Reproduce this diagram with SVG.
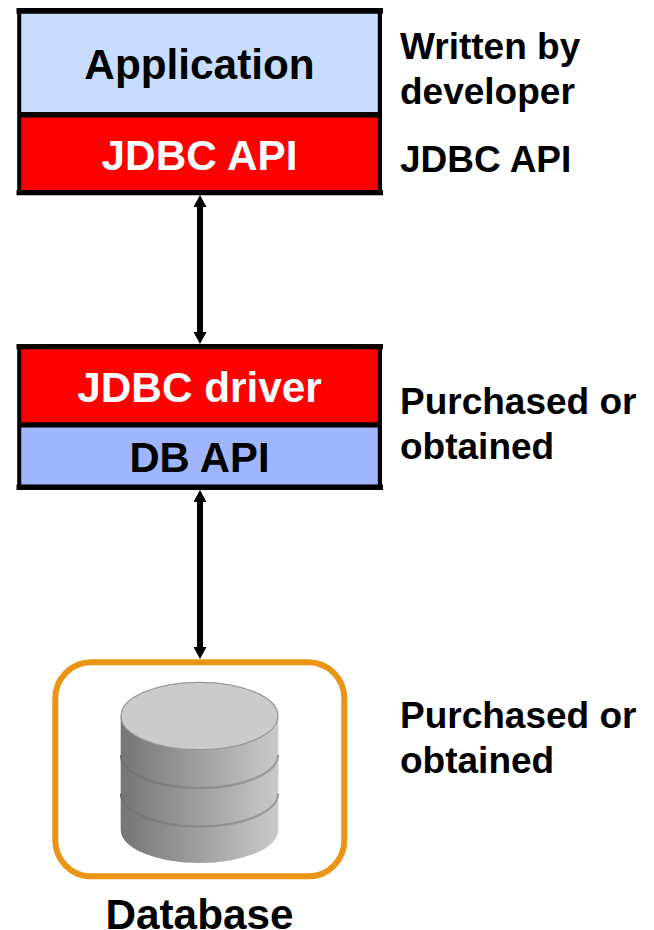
<svg xmlns="http://www.w3.org/2000/svg" width="654" height="930" viewBox="0 0 654 930">
<style>
text{font-family:"Liberation Sans",Arial,sans-serif;font-weight:700;fill:#000}
.c{font-size:42.300px;text-anchor:middle}
.n{font-size:37px}
.b{stroke:none;fill:#000}
.a{stroke:#000;stroke-width:6;fill:none;marker-start:url(#h);marker-end:url(#h)}
.s{fill:none;stroke:url(#sg);stroke-width:2.400}
</style>
<defs>
<marker id="h" markerUnits="userSpaceOnUse" markerWidth="13" markerHeight="13" refX="2" refY="6.500" orient="auto-start-reverse"><path d="M0 0L12 6.500L0 13Z" fill="#000"/></marker>
<linearGradient id="g" x1="0" x2="1" y1="0" y2="0"><stop offset="0" stop-color="#757575"/><stop offset="1" stop-color="#cacaca"/></linearGradient>
<linearGradient id="sg" gradientUnits="userSpaceOnUse" x1="120" x2="279" y1="0" y2="0"><stop offset="0" stop-color="#707070"/><stop offset="0.5" stop-color="#8c8c8c"/><stop offset="1" stop-color="#a0a0a0"/></linearGradient>
</defs>
<rect width="654" height="930" fill="#fff"/>
<g id="app-stack">
<rect x="19" y="11" width="361" height="103" fill="#c8dcff"/>
<rect x="19" y="115" width="361" height="77" fill="#f00"/>
<path class="b" d="M16.500 8H383V13.700H382V190H383V195.300H16.500V190H17.200V13.700H16.500ZM21.200 13.700V112H377.800V13.700ZM21.200 117.400V190H377.800V117.400Z" fill-rule="evenodd"/>
<text class="c" x="199.500" y="79">Application</text>
<text class="c" x="199.500" y="170" style="fill:#fff">JDBC API</text>
</g>
<g id="driver-stack">
<rect x="19" y="347" width="361" height="77" fill="#f00"/>
<rect x="19" y="425" width="361" height="62" fill="#9fb6ff"/>
<path class="b" d="M16.500 344H383V349.300H382V484.500H383V490H16.500V484.500H17.200V349.300H16.500ZM21.200 349.300V422.300H377.800V349.300ZM21.200 427.400V484.500H377.800V427.400Z" fill-rule="evenodd"/>
<text class="c" x="199.500" y="402" style="fill:#fff">JDBC driver</text>
<text class="c" x="199.500" y="472" style="font-size:41.800px">DB API</text>
</g>
<g id="connectors">
<line class="a" x1="200" y1="205" x2="200" y2="334"/>
<line class="a" x1="200" y1="500" x2="200" y2="649"/>
</g>
<g id="database">
<rect x="55.300" y="662.300" width="289" height="214" rx="36" fill="#fff" stroke="#ea9515" stroke-width="6"/>
<path d="M120.700 716V830A78.800 33 0 0 0 278.300 830V716Z" fill="url(#g)"/>
<path class="s" d="M121 755A78.500 33 0 0 0 278 755"/>
<path class="s" d="M121 793.500A78.500 33 0 0 0 278 793.500"/>
<ellipse cx="199.500" cy="716" rx="78.500" ry="33.700" fill="#cbcbcb" stroke="#999" stroke-width="1.200"/>
<text class="c" x="199.500" y="928.500">Database</text>
</g>
<g id="notes">
<text class="n" x="400" y="59">Written by</text>
<text class="n" x="400" y="104">developer</text>
<text class="n" x="400" y="172">JDBC API</text>
<text class="n" x="400" y="414">Purchased or</text>
<text class="n" x="400" y="459">obtained</text>
<text class="n" x="400" y="728">Purchased or</text>
<text class="n" x="400" y="773">obtained</text>
</g>
</svg>
